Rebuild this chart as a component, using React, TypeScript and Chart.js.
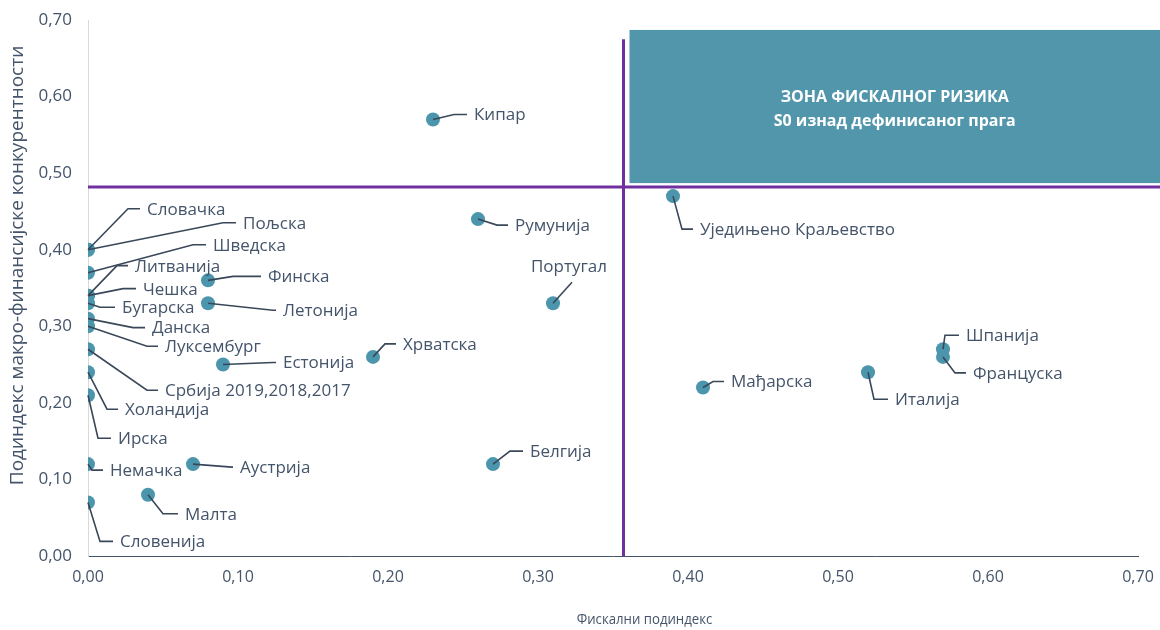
import { useEffect, useRef } from "react";
import { Chart, registerables } from "chart.js";

Chart.register(...registerables);

// ---------------- data ----------------
const countries = [
  "Кипар", "Румунија", "Уједињено Краљевство", "Португал", "Хрватска", "Естонија",
  "Финска", "Летонија", "Белгија", "Аустрија", "Малта", "Мађарска", "Италија",
  "Шпанија", "Француска", "Словачка", "Пољска", "Шведска", "Литванија", "Чешка",
  "Бугарска", "Данска", "Луксембург", "Србија 2019,2018,2017", "Холандија", "Ирска",
  "Немачка", "Словенија",
];
const fiscalSubindex = [
  0.23, 0.26, 0.39, 0.31, 0.19, 0.09,
  0.08, 0.08, 0.27, 0.07, 0.04, 0.41, 0.52,
  0.57, 0.57, 0.0, 0.0, 0.0, 0.0, 0.0,
  0.0, 0.0, 0.0, 0.0, 0.0, 0.0,
  0.0, 0.0,
];
const macroSubindex = [
  0.57, 0.44, 0.47, 0.33, 0.26, 0.25,
  0.36, 0.33, 0.12, 0.12, 0.08, 0.22, 0.24,
  0.27, 0.26, 0.40, 0.40, 0.37, 0.34, 0.34,
  0.33, 0.31, 0.30, 0.27, 0.24, 0.21,
  0.12, 0.07,
];
const axisTicks = [0, 0.1, 0.2, 0.3, 0.4, 0.5, 0.6, 0.7];
const FISCAL_THRESHOLD = 0.357;
const MACRO_THRESHOLD = 0.482;
const THRESHOLD_LINE_TOP = 0.675;
const ZONE_X_START = 0.361;
const ZONE_Y_TOP = 0.687;
const ZONE_Y_BOTTOM = 0.487;
const zoneTitle = "ЗОНА ФИСКАЛНОГ РИЗИКА";
const zoneSubtitle = "S0 изнад дефинисаног прага";
const xTitle = "Фискални подиндекс";
const yTitle = "Подиндекс макро-финансијске конкурентности";

// ---------------- styles / label layout ----------------
const FONT = "'Open Sans', 'Noto Sans', sans-serif";
const TEXT_COLOR = "#44546A";
const LEADER_COLOR = "#3A4759";
const POINT_COLOR = "#4B96AD";
const ZONE_COLOR = "#5296AC";
const PURPLE = "#7030A0";

// [text dx, text dy (middle), elbow dx] in pixels relative to the point
const labelLayout: Record<string, number[]> = {
  "Кипар": [41, -5, 21],
  "Румунија": [37, 6, 19],
  "Уједињено Краљевство": [27, 33, 9],
  "Хрватска": [30, -13, 12],
  "Естонија": [60, -2, 50],
  "Финска": [60, -4, 25],
  "Летонија": [75, 7, 65],
  "Белгија": [37, -13, 17],
  "Аустрија": [47, 3, 39],
  "Малта": [37, 19, 15],
  "Мађарска": [28, -6, 10],
  "Италија": [27, 27, 6],
  "Шпанија": [23, -14, 2],
  "Француска": [30, 16, 12],
  "Словачка": [59, -41, 40],
  "Пољска": [155, -27, 135],
  "Шведска": [125, -28, 105],
  "Литванија": [47, -30, 29],
  "Чешка": [55, -7, 35],
  "Бугарска": [34, 4, 12],
  "Данска": [64, 9, 45],
  "Луксембург": [77, 20, 59],
  "Србија 2019,2018,2017": [77, 41, 59],
  "Холандија": [37, 37, 19],
  "Ирска": [30, 43, 10],
  "Немачка": [22, 6, 4],
  "Словенија": [32, 39, 12],
};
// label centred above the point: [text centre dx, text dy, leader end dx, leader end dy]
const labelAbove: Record<string, number[]> = {
  "Португал": [16, -36, 19, -21],
};

const fmt = (v: number) => v.toFixed(2).replace(".", ",");

const annotationPlugin = {
  id: "fiscalAnnotations",
  beforeDatasetsDraw(chart: any) {
    const { ctx, scales } = chart;
    const x = scales.x;
    const y = scales.y;
    ctx.save();
    // risk zone box
    const bx = x.getPixelForValue(ZONE_X_START);
    const by1 = y.getPixelForValue(ZONE_Y_TOP);
    const by2 = y.getPixelForValue(ZONE_Y_BOTTOM);
    ctx.fillStyle = ZONE_COLOR;
    ctx.fillRect(bx, by1, chart.width - bx, by2 - by1);
    ctx.fillStyle = "#FFFFFF";
    ctx.font = `bold 16px ${FONT}`;
    ctx.textAlign = "center";
    ctx.textBaseline = "middle";
    const cx = (bx + chart.width) / 2;
    const cy = (by1 + by2) / 2;
    ctx.fillText(zoneTitle, cx, cy - 9);
    ctx.fillText(zoneSubtitle, cx, cy + 15);
    // threshold lines
    ctx.strokeStyle = PURPLE;
    ctx.lineWidth = 3;
    const vx = x.getPixelForValue(FISCAL_THRESHOLD);
    ctx.beginPath();
    ctx.moveTo(vx, y.getPixelForValue(0));
    ctx.lineTo(vx, y.getPixelForValue(THRESHOLD_LINE_TOP));
    ctx.stroke();
    const hy = y.getPixelForValue(MACRO_THRESHOLD);
    ctx.beginPath();
    ctx.moveTo(x.getPixelForValue(0), hy);
    ctx.lineTo(chart.width, hy);
    ctx.stroke();
    ctx.restore();
  },
  afterDatasetsDraw(chart: any) {
    const { ctx } = chart;
    const meta = chart.getDatasetMeta(0);
    ctx.save();
    ctx.font = `17px ${FONT}`;
    ctx.fillStyle = TEXT_COLOR;
    ctx.strokeStyle = LEADER_COLOR;
    ctx.lineWidth = 1.6;
    ctx.textBaseline = "middle";
    countries.forEach((name, i) => {
      const pt = meta.data[i];
      const px = pt.x;
      const py = pt.y;
      if (labelAbove[name]) {
        const [tdx, tdy, ldx, ldy] = labelAbove[name];
        ctx.beginPath();
        ctx.moveTo(px, py);
        ctx.lineTo(px + ldx, py + ldy);
        ctx.stroke();
        ctx.textAlign = "center";
        ctx.fillText(name, px + tdx, py + tdy);
        return;
      }
      const [tdx, tdy, edx] = labelLayout[name];
      ctx.beginPath();
      ctx.moveTo(px, py);
      ctx.lineTo(px + edx, py + tdy);
      ctx.lineTo(px + tdx - 7, py + tdy);
      ctx.stroke();
      ctx.textAlign = "left";
      ctx.fillText(name, px + tdx, py + tdy + 1);
    });
    ctx.restore();
  },
  afterDraw(chart: any) {
    const { ctx, chartArea } = chart;
    ctx.save();
    ctx.fillStyle = TEXT_COLOR;
    ctx.textAlign = "center";
    ctx.textBaseline = "middle";
    ctx.font = `15px ${FONT}`;
    ctx.save();
    ctx.translate(chartArea.left + (chartArea.right - chartArea.left) * 0.53, 620);
    ctx.scale(0.88, 1);
    ctx.fillText(xTitle, 0, 0);
    ctx.restore();
    ctx.translate(18, chartArea.top + (chartArea.bottom - chartArea.top) * 0.458);
    ctx.rotate(-Math.PI / 2);
    ctx.font = `19px ${FONT}`;
    ctx.fillText(yTitle, 0, 0);
    ctx.restore();
  },
};

export default function App() {
  const canvasRef = useRef<HTMLCanvasElement | null>(null);

  useEffect(() => {
    if (!canvasRef.current) return;
    const chart = new Chart(canvasRef.current, {
      type: "scatter",
      data: {
        datasets: [
          {
            data: countries.map((_, i) => ({ x: fiscalSubindex[i], y: macroSubindex[i] })),
            backgroundColor: POINT_COLOR,
            borderColor: POINT_COLOR,
            borderWidth: 0,
            pointRadius: 7,
            pointHoverRadius: 7,
          },
        ],
      },
      options: {
        animation: false,
        responsive: false,
        layout: { padding: { left: 0, top: 20, right: 22, bottom: 0 } },
        plugins: { legend: { display: false }, tooltip: { enabled: false } },
        scales: {
          x: {
            type: "linear",
            min: 0,
            max: 0.7,
            afterBuildTicks: (s: any) => {
              s.ticks = axisTicks.map((v) => ({ value: v }));
            },
            afterFit: (s: any) => {
              s.height = 74;
              s.paddingLeft = 0;
              s.paddingRight = 0;
              s.paddingTop = 0;
              s.paddingBottom = 0;
            },
            ticks: {
              callback: (v: any) => fmt(Number(v)),
              color: TEXT_COLOR,
              font: { family: FONT, size: 16 },
              padding: 12,
              maxRotation: 0,
            },
            grid: { display: false, drawTicks: false },
            border: { display: true, color: "#44546A", width: 1 },
          },
          y: {
            type: "linear",
            min: 0,
            max: 0.7,
            afterBuildTicks: (s: any) => {
              s.ticks = axisTicks.map((v) => ({ value: v }));
            },
            afterFit: (s: any) => {
              s.width = 88;
              s.paddingLeft = 0;
              s.paddingRight = 0;
              s.paddingTop = 0;
              s.paddingBottom = 0;
            },
            ticks: {
              callback: (v: any) => fmt(Number(v)),
              color: TEXT_COLOR,
              font: { family: FONT, size: 17 },
              padding: 16,
            },
            grid: { display: false, drawTicks: false },
            border: { display: true, color: "#D9D9D9", width: 1 },
          },
        },
      },
      plugins: [annotationPlugin],
    });
    return () => chart.destroy();
  }, []);

  return (
    <div style={{ position: "fixed", left: 0, top: 0, width: 1160, height: 630, background: "#FFFFFF" }}>
      <canvas ref={canvasRef} width={1160} height={630} style={{ display: "block" }} />
    </div>
  );
}
